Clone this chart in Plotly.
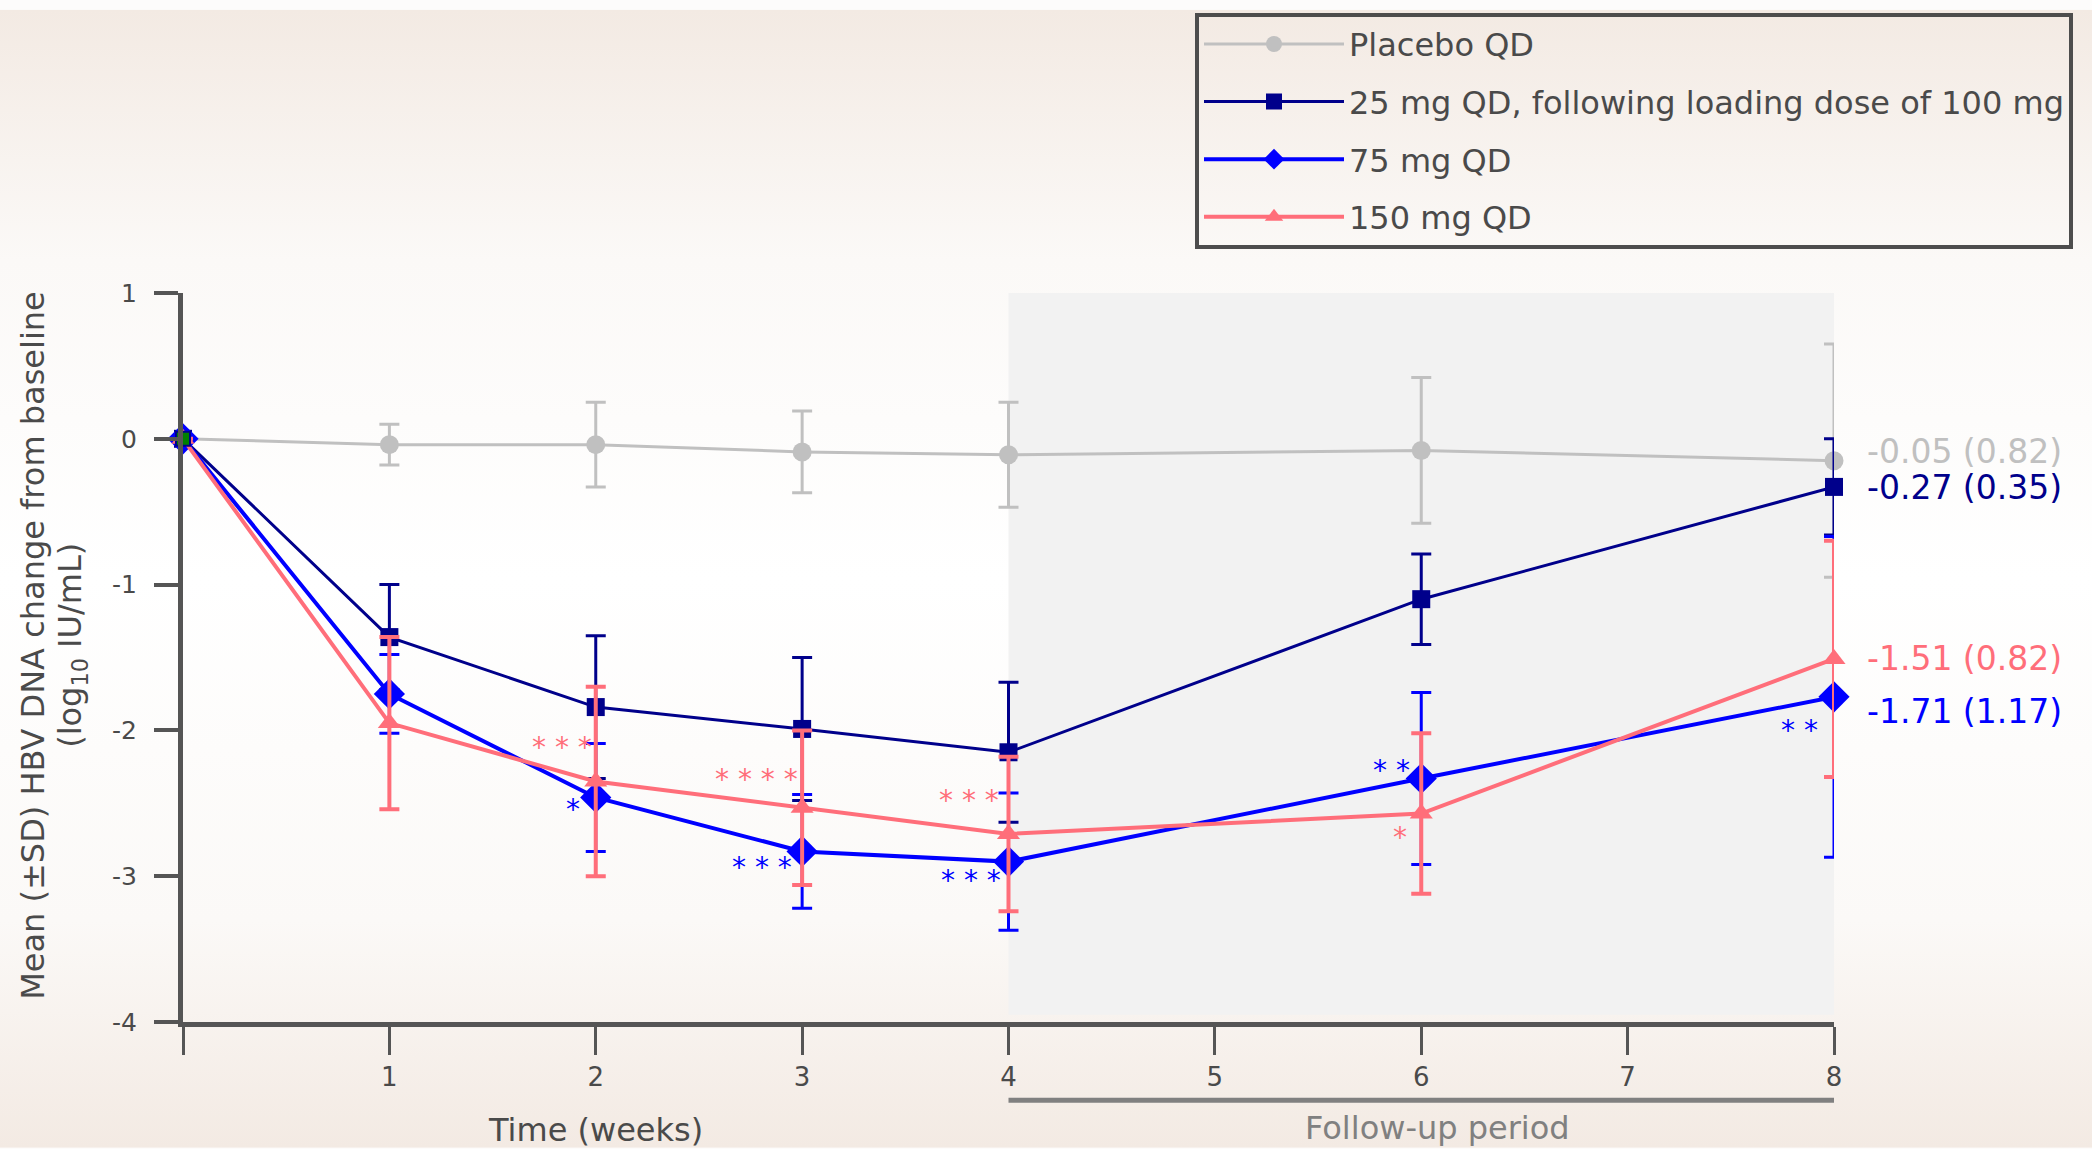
import base64
import plotly.graph_objects as go

# ---------------- data ----------------
weeks = [0, 1, 2, 3, 4, 6, 8]
x_ticks = [1, 2, 3, 4, 5, 6, 7, 8]
x_tick_text = ["1", "2", "3", "4", "5", "6", "7", "8"]
y_ticks = [-4, -3, -2, -1, 0, 1]
y_tick_text = ["-4", "-3", "-2", "-1", "0", "1"]

series_names = ["Placebo QD", "25 mg QD, following loading dose of 100 mg", "75 mg QD", "150 mg QD"]

placebo_mean = [0, -0.04, -0.04, -0.09, -0.11, -0.08, -0.15]
placebo_sd = [0, 0.14, 0.29, 0.28, 0.36, 0.50, 0.80]

mg25_mean = [0, -1.36, -1.84, -1.99, -2.15, -1.10, -0.33]
mg25_sd = [0, 0.36, 0.49, 0.49, 0.48, 0.31, 0.33]

mg75_mean = [0, -1.75, -2.46, -2.83, -2.90, -2.33, -1.77]
mg75_sd = [0, 0.27, 0.37, 0.39, 0.47, 0.59, 1.10]

mg150_mean = [0, -1.95, -2.35, -2.53, -2.71, -2.57, -1.51]
mg150_sd = [0, 0.59, 0.65, 0.53, 0.53, 0.55, 0.81]

stars_75 = ["", "", "*", "***", "***", "**", "**"]
stars_150 = ["", "", "***", "****", "***", "*", ""]

final_labels = ["-0.05 (0.82)", "-0.27 (0.35)", "-1.71 (1.17)", "-1.51 (0.82)"]

baseline_week = [0]
baseline_value = [0]

followup_start, followup_end = 4, 8

# ---------------- style ----------------
W, H = 2092, 1149
L, R, T, B = 183, 258, 286, 127
PW, PH = W - L - R, H - T - B

C_PLA = "#c0c0c0"
C_25 = "#00008b"
C_75 = "#0000ff"
C_150 = "#ff6e7a"
AXC = "#555555"
TXT = "#4a4a4a"
FONT = "DejaVu Sans, Verdana, sans-serif"

fig = go.Figure()


def add_series(name, mean, sd, color, symbol, msize, lw, ew, group):
    fig.add_trace(go.Scatter(
        x=weeks, y=mean, name=name, mode="lines+markers",
        line=dict(color=color, width=lw),
        marker=dict(symbol=symbol, size=msize, color=color),
        error_y=dict(type="data", array=sd, visible=True, color=color,
                     thickness=ew, width=10),
        cliponaxis=False, legendgroup=group,
    ))


add_series(series_names[0], placebo_mean, placebo_sd, C_PLA, "circle", 19, 3, 3, "a")
add_series(series_names[1], mg25_mean, mg25_sd, C_25, "square", 18, 3, 3, "b")
add_series(series_names[2], mg75_mean, mg75_sd, C_75, "diamond", 24, 4, 3, "c")
add_series(series_names[3], mg150_mean, mg150_sd, C_150, "triangle-up", 20, 4, 4, "d")

fig.add_trace(go.Scatter(
    x=baseline_week, y=baseline_value, mode="markers", showlegend=False,
    marker=dict(symbol="square", size=14, color="#008000", line=dict(color=C_25, width=2)),
    cliponaxis=False, hoverinfo="skip",
))

# background gradient
svg = ('<svg xmlns="http://www.w3.org/2000/svg" width="100" height="100" preserveAspectRatio="none">'
       '<defs><linearGradient id="g" x1="0" y1="0" x2="0" y2="1">'
       '<stop offset="0" stop-color="#f3eae3"/>'
       '<stop offset="0.22" stop-color="#fbf9f7"/>'
       '<stop offset="0.5" stop-color="#ffffff"/>'
       '<stop offset="0.8" stop-color="#fbf9f7"/>'
       '<stop offset="1" stop-color="#f3eae3"/>'
       '</linearGradient></defs><rect width="100" height="100" fill="url(#g)"/></svg>')
src = "data:image/svg+xml;base64," + base64.b64encode(svg.encode()).decode()
fig.add_layout_image(dict(
    source=src, xref="paper", yref="paper",
    x=-L / PW, y=1 + T / PH, sizex=W / PW, sizey=H / PH,
    xanchor="left", yanchor="top", sizing="stretch", layer="below",
))

# follow-up shading
fig.add_shape(type="rect", xref="x", yref="y", x0=followup_start, x1=followup_end + 0.01,
              y0=y_ticks[0] + 0.05, y1=y_ticks[-1], fillcolor="#f2f2f2",
              line=dict(width=0), layer="below")
# follow-up bar
fig.add_shape(type="line", xref="x", yref="paper", x0=followup_start, x1=followup_end,
              y0=-79 / PH, y1=-79 / PH, line=dict(color="#808080", width=5))

annotations = []


def star_ann(stars, mean, color, offsets):
    for wk, s, m, off in zip(weeks, stars, mean, offsets):
        if not s:
            continue
        annotations.append(dict(
            x=wk, y=m, xref="x", yref="y", text=" ".join(s), showarrow=False,
            xanchor="right", yanchor="middle", xshift=off[0], yshift=off[1],
            font=dict(family=FONT, size=28, color=color),
        ))


star_ann(stars_75, mg75_mean, C_75,
         [None, None, (-14, -12), (-8, -16), (-6, -19), (-9, 8), (-14, -34)])
star_ann(stars_150, mg150_mean, C_150,
         [None, None, (-2, 34), (-2, 28), (-8, 33), (-12, -24), None])

# end labels
for lab, m, col, ys in zip(final_labels,
                           [placebo_mean[-1], mg25_mean[-1], mg75_mean[-1], mg150_mean[-1]],
                           [C_PLA, C_25, C_75, C_150], [9, -1, -15, 0]):
    annotations.append(dict(
        x=weeks[-1], y=m, xref="x", yref="y", text=lab, showarrow=False,
        xanchor="left", yanchor="middle", xshift=31, yshift=ys,
        font=dict(family=FONT, size=33, color=col),
    ))

# axis titles
annotations.append(dict(x=2, y=0, xref="x", yref="paper", text="Time (weeks)", showarrow=False,
                        xanchor="center", yanchor="middle", yshift=-108,
                        font=dict(family=FONT, size=32, color=TXT)))
annotations.append(dict(x=6.08, y=0, xref="x", yref="paper", text="Follow-up period", showarrow=False,
                        xanchor="center", yanchor="middle", yshift=-106,
                        font=dict(family=FONT, size=32, color="#808080")))
annotations.append(dict(x=0, y=0.516, xref="paper", yref="paper",
                        text="Mean (±SD) HBV DNA change from baseline", showarrow=False,
                        textangle=-90, xanchor="center", yanchor="middle", xshift=-150,
                        font=dict(family=FONT, size=32, color=TXT)))
annotations.append(dict(x=0, y=0.516, xref="paper", yref="paper",
                        text="(log<sub>10</sub> IU/mL)", showarrow=False,
                        textangle=-90, xanchor="center", yanchor="middle", xshift=-111,
                        font=dict(family=FONT, size=32, color=TXT)))

fig.update_layout(
    width=W, height=H,
    margin=dict(l=L, r=R, t=T, b=B),
    paper_bgcolor="#fdfcfb", plot_bgcolor="rgba(0,0,0,0)",
    showlegend=True,
    legend=dict(
        x=(1195 - L) / PW, y=1 + (T - 3) / PH, xanchor="left", yanchor="top",
        bgcolor="rgba(0,0,0,0)", bordercolor="#4d4d4d", borderwidth=4,
        font=dict(family=FONT, size=32, color=TXT),
        tracegroupgap=13, itemwidth=140,
    ),
    annotations=annotations,
    xaxis=dict(
        range=[0, 8], tickvals=x_ticks, ticktext=x_tick_text,
        showline=True, linecolor=AXC, linewidth=5,
        ticks="outside", ticklen=28, tickwidth=3, tickcolor=AXC,
        minor=dict(tickvals=[0], ticks="outside", ticklen=28, tickwidth=3, tickcolor=AXC),
        showgrid=False, zeroline=False,
        tickfont=dict(family=FONT, size=26, color=TXT),
    ),
    yaxis=dict(
        range=[-4, 1], tickvals=y_ticks, ticktext=y_tick_text,
        showline=True, linecolor=AXC, linewidth=5,
        ticks="outside", ticklen=24, tickwidth=4, tickcolor=AXC,
        showgrid=False, zeroline=False,
        tickfont=dict(family=FONT, size=25, color=TXT),
        ticklabelstandoff=12,
    ),
)

fig.write_html("out.html", config={"displayModeBar": False},
               post_script="document.body.style.margin='0';")
